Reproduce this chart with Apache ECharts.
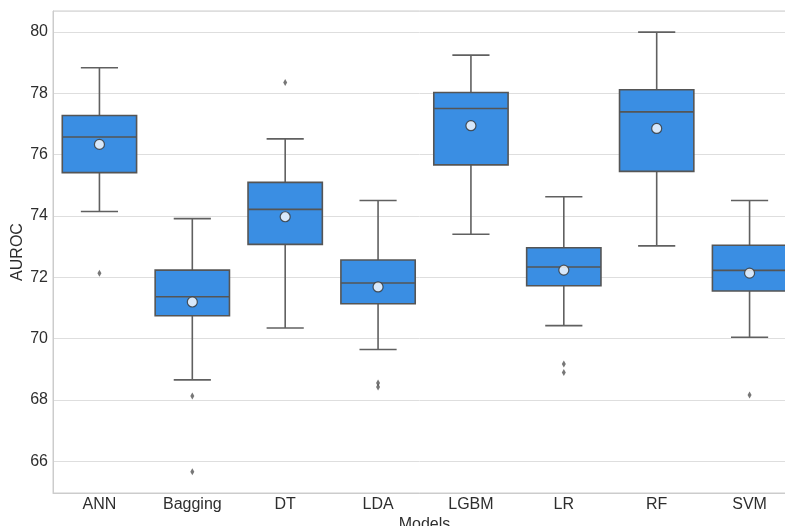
<!DOCTYPE html>
<html>
<head>
<meta charset="utf-8">
<script src="https://cdn.jsdelivr.net/npm/echarts@6/dist/echarts.min.js"></script>
<style>
html,body{margin:0;padding:0;background:#fff;}
#chart{width:785px;height:526px;}
</style>
</head>
<body>
<div id="chart"></div>
<script>
const categories = ['ANN', 'Bagging', 'DT', 'LDA', 'LGBM', 'LR', 'RF', 'SVM'];
const whiskerLow  = [74.14, 68.65, 70.34, 69.64, 73.40, 70.42, 73.02, 70.04];
const q1          = [75.41, 70.74, 73.07, 71.13, 75.66, 71.72, 75.45, 71.55];
const median      = [76.57, 71.36, 74.21, 71.81, 77.50, 72.33, 77.39, 72.22];
const q3          = [77.27, 72.23, 75.09, 72.56, 78.02, 72.96, 78.11, 73.04];
const whiskerHigh = [78.83, 73.91, 76.51, 74.50, 79.24, 74.62, 79.99, 74.50];
const means       = [76.33, 71.19, 73.97, 71.68, 76.94, 72.23, 76.85, 72.13];
const outliers = [
  ['ANN', 72.13],
  ['Bagging', 68.12], ['Bagging', 65.65],
  ['DT', 78.35],
  ['LDA', 68.55], ['LDA', 68.42],
  ['LR', 69.17], ['LR', 68.89],
  ['SVM', 68.16]
];
const yTicks = [66, 68, 70, 72, 74, 76, 78, 80];

const boxData = categories.map((c, i) => [i, whiskerLow[i], q1[i], median[i], q3[i], whiskerHigh[i]]);
const meanData = categories.map((c, i) => [c, means[i]]);

const EDGE = '#555555';
const FILL = '#3a8ee3';

function renderBox(params, api) {
  const x = api.value(0);
  const pLow = api.coord([x, api.value(1)]);
  const pQ1 = api.coord([x, api.value(2)]);
  const pMed = api.coord([x, api.value(3)]);
  const pQ3 = api.coord([x, api.value(4)]);
  const pHigh = api.coord([x, api.value(5)]);
  const band = api.size([1, 0])[0];
  const bw = band * 0.8, cw = band * 0.4;
  const cx = pMed[0];
  const ls = { stroke: '#606060', lineWidth: 1.6 };
  return {
    type: 'group',
    children: [
      { type: 'line', shape: { x1: cx, y1: pQ3[1], x2: cx, y2: pHigh[1] }, style: ls },
      { type: 'line', shape: { x1: cx, y1: pQ1[1], x2: cx, y2: pLow[1] }, style: ls },
      { type: 'line', shape: { x1: cx - cw / 2, y1: pHigh[1], x2: cx + cw / 2, y2: pHigh[1] }, style: ls },
      { type: 'line', shape: { x1: cx - cw / 2, y1: pLow[1], x2: cx + cw / 2, y2: pLow[1] }, style: ls },
      { type: 'rect', shape: { x: cx - bw / 2, y: pQ3[1], width: bw, height: pQ1[1] - pQ3[1] },
        style: { fill: FILL, stroke: EDGE, lineWidth: 1.6 } },
      { type: 'line', shape: { x1: cx - bw / 2, y1: pMed[1], x2: cx + bw / 2, y2: pMed[1] }, style: { stroke: EDGE, lineWidth: 1.6 } }
    ]
  };
}

const chart = echarts.init(document.getElementById('chart'), null, { renderer: 'canvas' });
const axisFont = { fontFamily: '"Liberation Sans", Arial, sans-serif', fontSize: 16, color: '#2e2e2e' };
chart.setOption({
  animation: false,
  backgroundColor: '#ffffff',
  grid: {
    left: 53, top: 11, width: 743, height: 482,
    show: true, borderColor: '#cccccc', borderWidth: 1, backgroundColor: 'transparent',
    containLabel: false,
    outerBoundsMode: 'none'
  },
  xAxis: {
    type: 'category',
    data: categories,
    boundaryGap: true,
    name: 'Models',
    nameLocation: 'middle',
    nameGap: 24,
    nameMoveOverlap: false,
    nameTextStyle: axisFont,
    axisLine: { show: true, lineStyle: { color: '#cccccc', width: 1 } },
    axisTick: { show: false },
    axisLabel: Object.assign({ margin: 4 }, axisFont),
    splitLine: { show: false }
  },
  yAxis: {
    type: 'value',
    min: 64.96,
    max: 80.68,
    splitNumber: 8,
    name: 'AUROC',
    nameLocation: 'middle',
    nameGap: 27,
    nameMoveOverlap: false,
    nameRotate: 90,
    nameTextStyle: axisFont,
    axisLine: { show: true, lineStyle: { color: '#cccccc', width: 1 } },
    axisTick: { show: false },
    axisLabel: Object.assign({
      margin: 5,
      showMinLabel: false,
      showMaxLabel: false,
      formatter: v => (yTicks.indexOf(Math.round(v * 100) / 100) >= 0 ? String(Math.round(v)) : '')
    }, axisFont),
    splitLine: { show: true, lineStyle: { color: '#dedede', width: 1 } }
  },
  series: [
    {
      type: 'custom',
      renderItem: renderBox,
      data: boxData,
      encode: { x: 0, y: [1, 2, 3, 4, 5] },
      clip: false,
      z: 2
    },
    {
      type: 'scatter',
      data: outliers,
      symbol: 'diamond',
      symbolSize: [4, 7],
      itemStyle: { color: '#555555' },
      z: 3
    },
    {
      type: 'scatter',
      data: meanData,
      symbol: 'circle',
      symbolSize: 10,
      itemStyle: { color: '#ffffff', borderColor: '#333333', borderWidth: 1.2 },
      z: 4
    }
  ]
});
</script>
</body>
</html>
